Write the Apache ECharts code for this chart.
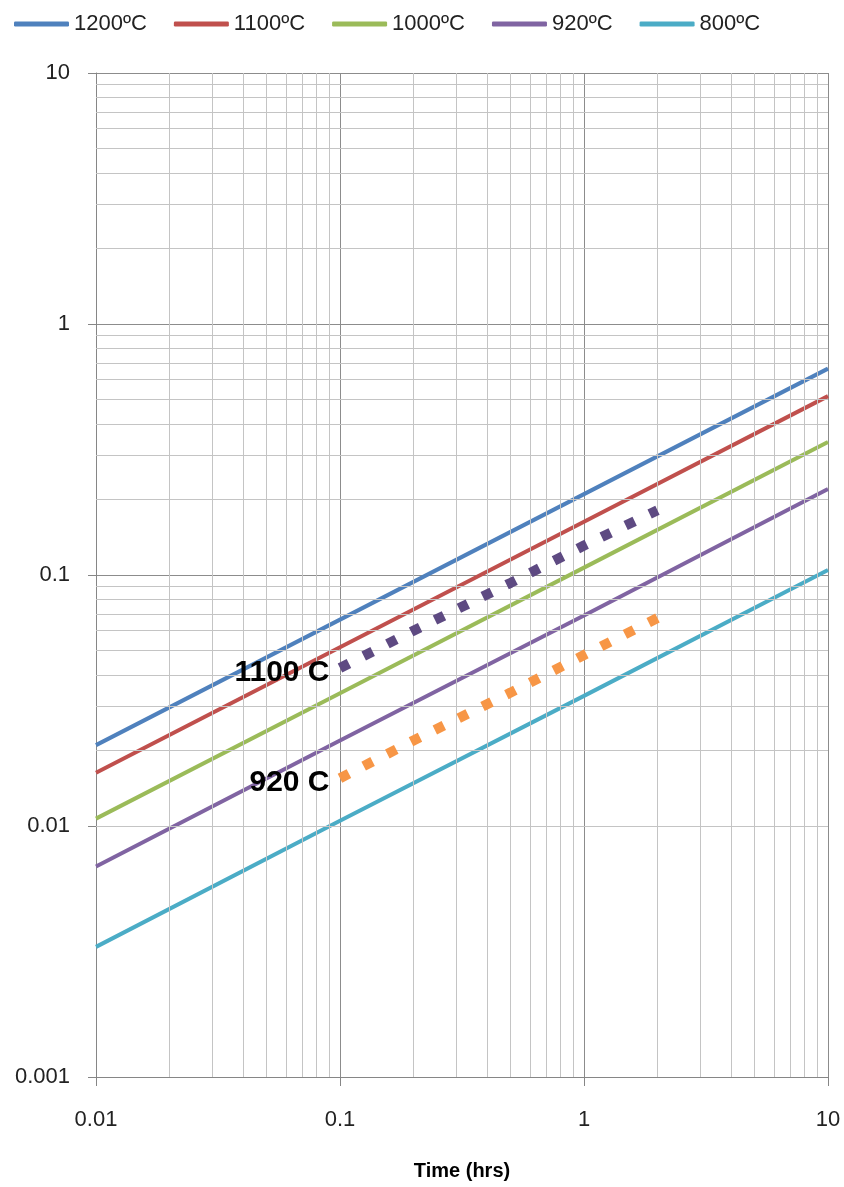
<!DOCTYPE html>
<html>
<head>
<meta charset="utf-8">
<title>Diffusion depth vs time</title>
<script src="https://cdn.jsdelivr.net/npm/echarts@6/dist/echarts.min.js"></script>
<style>
  html, body { margin: 0; padding: 0; background: #fff; }
  #chart { width: 844px; height: 1187px; }
</style>
</head>
<body>
<div id="chart"></div>
<script>
// Time samples (hours) for the fitted curves
var times = [0.01, 0.1, 1, 10];

// Fitted curves, one per temperature
var seriesNames = ['1200ºC', '1100ºC', '1000ºC', '920ºC', '800ºC'];
var seriesColors = ['#4f81bd', '#c0504d', '#9bbb59', '#8064a2', '#4bacc6'];
var v1200 = [0.0210, 0.0664, 0.210, 0.664];
var v1100 = [0.0163, 0.0515, 0.163, 0.516];
var v1000 = [0.0107, 0.0338, 0.107, 0.339];
var v920  = [0.0069, 0.0219, 0.069, 0.220];
var v800  = [0.0033, 0.0105, 0.033, 0.1047];
var curveValues = [v1200, v1100, v1000, v920, v800];

// Measured runs (dotted)
var measTimes = [0.1, 0.2, 0.5, 1, 2];
var meas1100 = [0.0426, 0.060, 0.093, 0.131, 0.181];
var meas920  = [0.0155, 0.0219, 0.034, 0.048, 0.0674];
var measLabels = ['1100 C', '920 C'];
var measColors = ['#5e4a82', '#f79646'];

// Axis ranges, major ticks and minor grid multipliers
var xTicks = [0.01, 0.1, 1, 10];
var yTicks = [0.001, 0.01, 0.1, 1, 10];
var minorSteps = [2, 3, 4, 5, 6, 7, 8, 9];

function minorLines(ticks) {
  var out = [];
  for (var i = 0; i < ticks.length - 1; i++) {
    minorSteps.forEach(function (m) { out.push(+(ticks[i] * m).toPrecision(3)); });
  }
  return out;
}

var font = "'Liberation Sans', Arial, sans-serif";
var fmt = function (v) { return String(+Number(v).toPrecision(3)); };

var series = [];

// minor grid lines, drawn as mark lines on the log scales
var gridMarks = minorLines(xTicks).map(function (v) { return { xAxis: v }; })
  .concat(minorLines(yTicks).map(function (v) { return { yAxis: v }; }));
series.push({
  name: 'grid',
  type: 'line',
  z: 1,
  silent: true,
  data: [[xTicks[0], yTicks[0]]],
  showSymbol: false,
  lineStyle: { opacity: 0 },
  animation: false,
  markLine: {
    silent: true,
    symbol: ['none', 'none'],
    label: { show: false },
    lineStyle: { type: 'solid', color: '#c4c4c4', width: 1 },
    emphasis: { disabled: true },
    animation: false,
    data: gridMarks
  }
});

curveValues.forEach(function (vals, i) {
  series.push({
    name: seriesNames[i],
    type: 'line',
    z: 3,
    data: times.map(function (t, k) { return [t, vals[k]]; }),
    showSymbol: false,
    color: seriesColors[i],
    lineStyle: { width: 4, color: seriesColors[i] },
    emphasis: { disabled: true },
    animation: false
  });
});

[meas1100, meas920].forEach(function (vals, i) {
  series.push({
    name: measLabels[i],
    type: 'line',
    z: 10,
    data: measTimes.map(function (t, k) {
      var item = { value: [t, vals[k]] };
      if (k === 0) {
        item.label = {
          show: true,
          position: 'left',
          distance: 10,
          offset: [0, 5],
          formatter: measLabels[i],
          color: '#000',
          textBorderWidth: 0,
          textBorderColor: 'transparent',
          fontFamily: font,
          fontWeight: 'bold',
          fontSize: 30
        };
      }
      return item;
    }),
    showSymbol: true,
    symbol: 'circle',
    symbolSize: 1,
    itemStyle: { color: 'transparent' },
    lineStyle: { width: 10, color: measColors[i], type: [10, 16.6], cap: 'butt' },
    emphasis: { disabled: true },
    animation: false
  });
});

var chart = echarts.init(document.getElementById('chart'), null, { renderer: 'canvas' });
chart.setOption({
  backgroundColor: '#ffffff',
  animation: false,
  legend: {
    data: seriesNames,
    left: 9,
    top: 8,
    itemWidth: 55,
    itemHeight: 5,
    itemGap: 27,
    icon: 'roundRect',
    textStyle: { fontFamily: font, fontSize: 22, color: '#222' },
    selectedMode: false
  },
  grid: { left: 96, right: 16, top: 73, bottom: 110, containLabel: false },
  xAxis: {
    type: 'log',
    logBase: 10,
    min: xTicks[0],
    max: xTicks[xTicks.length - 1],
    name: 'Time (hrs)',
    nameLocation: 'middle',
    nameGap: 84,
    nameTextStyle: { fontFamily: font, fontSize: 20, fontWeight: 'bold', color: '#000' },
    axisLine: { show: true, onZero: false, lineStyle: { color: '#868686', width: 1 } },
    axisTick: { show: true, length: 9, inside: false, lineStyle: { color: '#868686' } },
    axisLabel: { formatter: fmt, margin: 32, fontFamily: font, fontSize: 22, color: '#222' },
    splitLine: { show: true, lineStyle: { color: '#8c8c8c', width: 1 } },
    minorTick: { show: false },
    minorSplitLine: { show: false }
  },
  yAxis: {
    type: 'log',
    logBase: 10,
    min: yTicks[0],
    max: yTicks[yTicks.length - 1],
    axisLine: { show: true, onZero: false, lineStyle: { color: '#868686', width: 1 } },
    axisTick: { show: true, length: 8, inside: false, lineStyle: { color: '#868686' } },
    axisLabel: { formatter: fmt, margin: 26, fontFamily: font, fontSize: 22, color: '#222' },
    splitLine: { show: true, lineStyle: { color: '#8c8c8c', width: 1 } },
    minorTick: { show: false },
    minorSplitLine: { show: false }
  },
  series: series
});
</script>
</body>
</html>
